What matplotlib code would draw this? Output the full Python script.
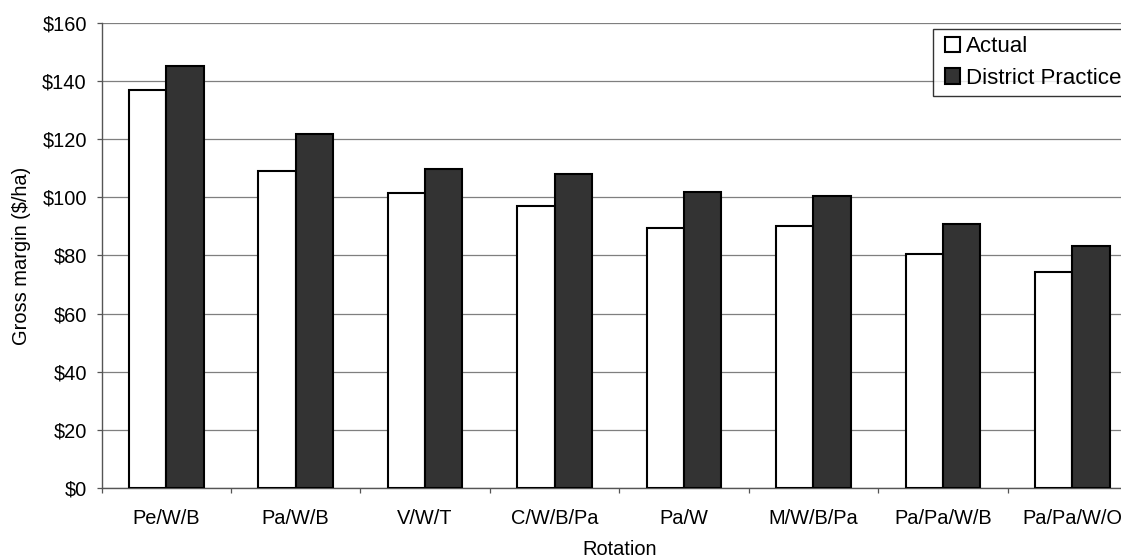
import matplotlib
matplotlib.use("Agg")
import matplotlib.pyplot as plt
import numpy as np
from matplotlib.ticker import FuncFormatter, MultipleLocator
from matplotlib.patches import Rectangle
from matplotlib.legend_handler import HandlerPatch, update_from_first_child
from matplotlib.container import BarContainer

categories = ["Pe/W/B", "Pa/W/B", "V/W/T", "C/W/B/Pa", "Pa/W", "M/W/B/Pa", "Pa/Pa/W/B", "Pa/Pa/W/O"]
actual = [137.0, 109.1, 101.6, 97.1, 89.5, 90.2, 80.5, 74.4]
district = [145.4, 121.8, 109.7, 108.0, 101.9, 100.5, 90.7, 83.3]
series_names = ["Actual", "District Practice"]

plt.rcParams['font.family'] = ['Liberation Sans', 'DejaVu Sans']
fs = 14.4
lfs = 16

fig = plt.figure(figsize=(11.21, 5.58), dpi=100)
L, R, B, T = 101.5/1121, 1137/1121, 1 - 487.7/558, 1 - 23.3/558
ax = fig.add_axes([L, B, R - L, T - B])

x = np.arange(len(categories))
w = 0.2885
ax.bar(x - w/2, actual, width=w, color="white", edgecolor="black", linewidth=1.5, label=series_names[0], zorder=3)
ax.bar(x + w/2, district, width=w, color="#333333", edgecolor="black", linewidth=1.5, label=series_names[1], zorder=3)

ax.set_xlim(-0.5, len(categories) - 0.5)
ax.set_ylim(0, 160)
ax.yaxis.set_major_locator(MultipleLocator(20))
ax.yaxis.set_major_formatter(FuncFormatter(lambda v, p: f"${int(v)}"))
ax.grid(axis="y", color="#7f7f7f", linewidth=0.9, zorder=0)
ax.set_axisbelow(True)

ax.set_xticks(x)
ax.set_xticklabels(categories)
ax.set_xticks(np.arange(-0.5, len(categories), 1.0), minor=True)
ax.tick_params(axis="x", which="major", length=0, pad=15, labelsize=fs)
ax.tick_params(axis="x", which="minor", length=3.6, width=0.9, color="#555555", direction="out")
ax.tick_params(axis="y", length=3.6, width=0.9, color="#555555", labelsize=fs, pad=7)

for s in ["top", "right"]:
    ax.spines[s].set_visible(False)
for s in ["left", "bottom"]:
    ax.spines[s].set_color("#555555")
    ax.spines[s].set_linewidth(1.0)

ax.set_ylabel("Gross margin ($/ha)", fontsize=fs)
ax.yaxis.set_label_coords(-0.068, 0.5)
ax.set_xlabel("Rotation", fontsize=fs)
ax.xaxis.set_label_coords(0.5, -0.112)


def square_patch(legend, orig_handle, xdescent, ydescent, width, height, fontsize):
    s = height
    return Rectangle((-xdescent + width - s, -ydescent), s, s)


leg = fig.legend(loc="upper left", bbox_to_anchor=(933.3/1121, 1 - 29.3/558), fontsize=lfs,
                 frameon=True, fancybox=False, handlelength=0.91, handleheight=0.68,
                 handletextpad=0.26, borderpad=0.3, labelspacing=0.49, borderaxespad=0,
                 handler_map={BarContainer: HandlerPatch(patch_func=square_patch,
                                                         update_func=update_from_first_child)})
leg.get_frame().set_edgecolor("black")
leg.get_frame().set_linewidth(1.0)

fig.savefig("out.png", dpi=100)
